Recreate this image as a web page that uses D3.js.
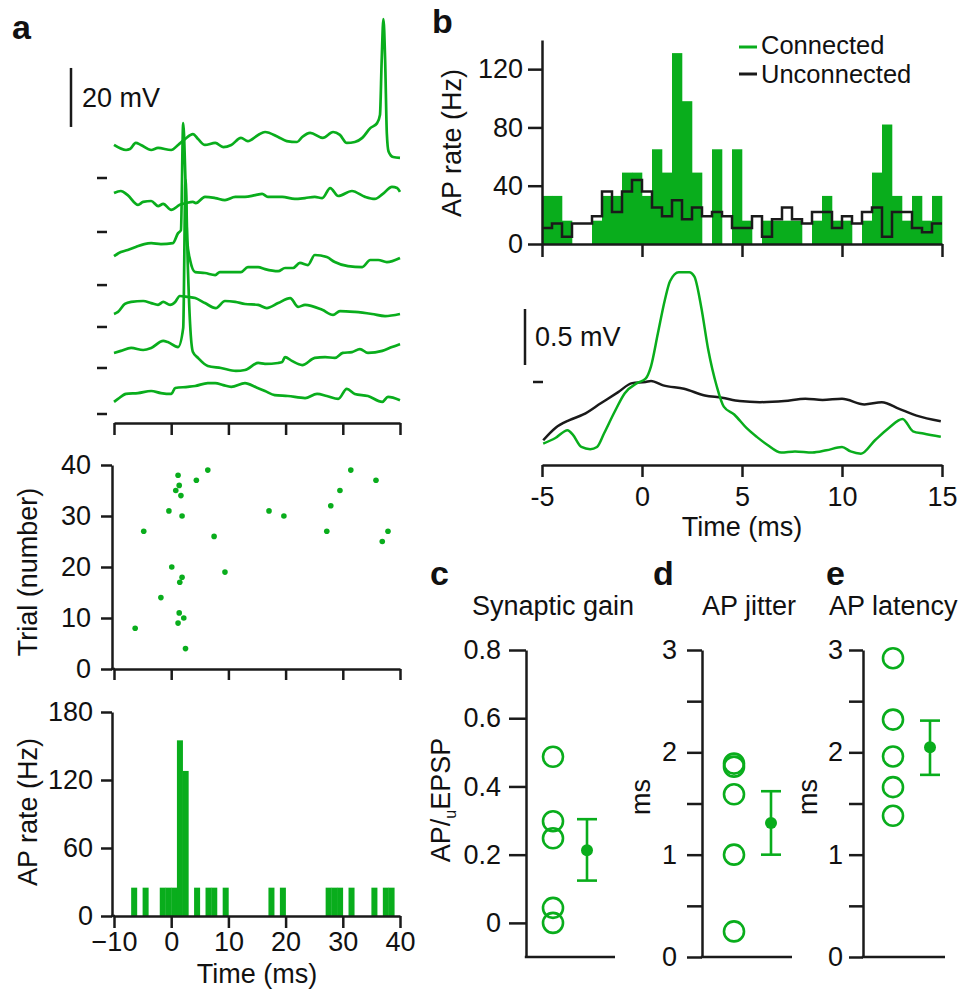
<!DOCTYPE html>
<html lang="en">
<head>
  <meta charset="UTF-8">
  <script src="https://d3js.org/d3.v7.min.js"></script>
  <style>
    body { margin: 0; background: #fff; }
    svg { display: block; font-family: "Liberation Sans", Arial, Helvetica, sans-serif; }
    .axis path, .axis line { stroke: #1a1a1a; stroke-width: 2.5; }
    .axis text { font-size: 27px; fill: #111; font-family: "Liberation Sans", Arial, sans-serif; }
    .lbl { font-size: 27px; fill: #111; }
    .leg { font-size: 25.5px; fill: #111; }
    .letter { font-size: 34px; font-weight: bold; fill: #111; }
  </style>
</head>
<body>
  <script>
    const width = 964;
    const height = 995;
    const GREEN = "#09ad1c";
    const INK = "#1a1a1a";

    // ---- panel a: example sweeps, [time ms, mV above the sweep's rest marker]
    const sweep1 = [[-10,11.2],[-7.9,9.5],[-7.2,9.8],[-6.2,11.9],[-5.3,11.2],[-3.5,9.5],[-2.3,10.2],[0,9.5],[1.2,11.2],[2.4,13.2],[3.8,14.9],[4.7,13.2],[5.9,11.2],[7.7,11.9],[9.1,10.5],[10.5,11.2],[12.2,13.6],[13.4,12.5],[15.2,14.6],[16.4,15.6],[18.7,13.9],[20.2,12.5],[22.0,12.2],[22.9,13.9],[24.3,15.3],[26.5,13.6],[28.3,15.6],[29.5,14.6],[30.7,11.9],[32.1,12.2],[33.4,13.6],[34.8,16.9],[36.0,18.6],[36.5,21.4],[36.8,40],[37.1,53.9],[37.4,40],[37.7,15],[38.0,9],[38.8,7.1],[40,6.8]];
    const sweep2 = [[-10,13.2],[-8.8,13.9],[-7.6,12.5],[-5.8,9.2],[-4.9,10.2],[-3.5,10.5],[-2.3,8.8],[-1.4,9.5],[0,7.5],[1.5,9.2],[2.6,9.8],[3.8,10.2],[4.3,9.8],[5.9,11.9],[7.7,11.5],[9.4,10.8],[11.2,11.9],[12.9,11.9],[14.7,12.5],[15.9,12.9],[16.9,11.9],[19.4,11.9],[21.6,11.2],[23.4,11.5],[25.1,11.9],[26.4,11.5],[27.8,14.9],[29.2,12.2],[31.6,13.9],[33.9,11.9],[35.6,11.2],[37.0,12.9],[38.6,15.3],[39.5,14.9],[40,13.6]];
    const sweep3 = [[-10,9.8],[-8.8,11.2],[-7.6,11.9],[-6.2,12.9],[-4.7,13.9],[-3.5,14.2],[-1.8,13.9],[0.3,14.2],[1.2,17.6],[1.7,18.6],[2.1,54.9],[2.5,35],[2.8,15],[3.3,8.5],[4.2,4.4],[5.9,4.1],[7.7,3.4],[8.5,4.4],[10.5,4.4],[12.2,4.4],[13.4,6.1],[15.2,6.1],[16.4,5.4],[18.7,4.7],[19.9,5.8],[21.3,5.8],[22.5,7.5],[23.9,6.8],[25.1,10.2],[27.2,9.5],[28.6,7.8],[30.9,6.4],[33.4,6.1],[34.8,8.5],[36.2,8.5],[37.7,7.8],[40,9.2]];
    const sweep4 = [[-10,4.4],[-9.3,5.1],[-8.1,7.8],[-7.0,8.5],[-4.9,8.8],[-3.5,8.1],[-2.3,7.5],[-1.4,8.5],[-0.2,7.5],[0.7,8.5],[1.5,10.5],[2.9,10.2],[4.2,9.8],[5.9,8.1],[7.8,6.4],[9.4,8.8],[11.2,8.5],[12.9,7.8],[15.2,7.5],[16.7,6.4],[18.7,8.1],[20.8,9.8],[22.2,6.8],[23.4,7.5],[26.4,5.8],[28.3,4.1],[29.5,5.4],[32.1,5.1],[35.1,4.4],[37.4,3.7],[40,4.4]];
    const sweep5 = [[-10,5.1],[-8.8,5.8],[-7.0,6.8],[-4.9,6.1],[-3.5,6.8],[-1.4,9.2],[-0.6,8.8],[1.2,7.1],[2.1,13.6],[2.5,63.7],[2.9,35],[3.3,15],[3.8,5.4],[4.7,3.4],[6.4,0.7],[8.7,0],[11.3,-1.0],[12.9,-0.7],[15.2,1.7],[16.4,1.4],[18.7,1.7],[19.4,2.0],[19.9,3.7],[21.1,2.4],[22.9,1.0],[25.1,3.4],[26.9,3.7],[28.6,3.4],[30.0,5.1],[31.6,5.4],[33.0,6.4],[34.4,5.1],[36.9,5.8],[38.6,7.1],[40,8.1]];
    const sweep6 = [[-10,4.1],[-9.3,5.1],[-7.9,6.8],[-5.8,7.1],[-3.5,7.8],[-1.8,7.1],[0,6.8],[0.7,8.8],[2.9,9.2],[4.2,9.5],[6.4,10.5],[7.7,10.5],[9.1,9.8],[10.5,9.2],[12.9,10.5],[14.9,9.0],[16.4,7.8],[18.1,6.4],[20.4,6.1],[23.4,5.4],[25.5,6.8],[27.2,6.1],[29.2,5.1],[30.7,8.5],[32.1,6.8],[34.4,6.1],[36.9,4.1],[37.9,5.8],[40,4.7]];
    const sweeps = [sweep1, sweep2, sweep3, sweep4, sweep5, sweep6];
    const sweepOffsets = [80, 61.7, 43.7, 29.5, 15.6, 0]; // mV offset of each sweep in the stack

    // raster
    const rasterTime  = [-6.3,-4.8,-1.8,-0.4,0.1,1.2,1.4,0.8,1.7,1.9,1.5,1.9,1.4,1.2,2.2,2.5,4.4,6.4,7.5,9.4,17.1,19.7,27.2,27.9,29.5,31.4,35.8,36.9,37.9];
    const rasterTrial = [8,27,14,31,20,38,36,35,34,30,17,18,11,9,10,4,37,39,26,19,31,30,27,32,35,39,37,25,27];

    // PSTH of the example pair, 1 ms bins
    const histBinStart = [-7,-5,-2,-1,0,1,2,4,6,7,9,17,19,27,28,29,31,35,37,38];
    const histRate     = [25,25,25,25,25,155,128,25,25,25,25,25,25,25,25,25,25,25,25,25];

    // ---- panel b: population PSTH, 0.5 ms bins from -5 ms
    const bBinStart = -5, bBinWidth = 0.5;
    const bConnected   = [33,33,16,0,0,16,33,33,49,49,33,65,49,131,98,49,0,65,0,65,16,0,16,16,16,16,0,16,33,16,16,0,16,49,82,33,16,33,16,33];
    const bUnconnected = [11,14,5,14,14,19,36,22,36,44,36,25,19,30,17,25,19,22,19,11,11,19,5,17,25,17,14,22,22,11,19,14,22,25,5,22,22,11,8,14];

    // average membrane potential, [time ms, mV]
    const vmConnected = [[-4.94,-0.55],[-4.33,-0.50],[-3.72,-0.43],[-3.46,-0.47],[-3.03,-0.58],[-2.59,-0.60],[-2.25,-0.58],[-1.9,-0.46],[-1.38,-0.27],[-0.86,-0.10],[-0.25,-0.01],[0.18,0.03],[0.45,0.14],[0.79,0.43],[1.14,0.73],[1.4,0.90],[1.84,0.98],[2.36,0.98],[2.62,0.94],[2.96,0.67],[3.31,0.29],[3.74,-0.04],[4.09,-0.22],[4.61,-0.29],[5.22,-0.41],[5.74,-0.49],[6.26,-0.56],[6.96,-0.63],[7.65,-0.62],[8.52,-0.63],[9.22,-0.61],[10.0,-0.58],[10.43,-0.62],[10.95,-0.64],[11.65,-0.52],[12.34,-0.41],[13.03,-0.33],[13.55,-0.44],[14.07,-0.46],[14.94,-0.49]];
    const vmUnconnected = [[-4.94,-0.52],[-4.33,-0.41],[-3.63,-0.34],[-2.93,-0.29],[-2.06,-0.19],[-1.19,-0.09],[-0.49,-0.01],[0.18,0.0],[0.45,0.01],[1.06,-0.03],[2.10,-0.06],[3.14,-0.12],[4.0,-0.14],[4.88,-0.17],[5.9,-0.18],[7.12,-0.17],[8.17,-0.15],[9.03,-0.16],[10.0,-0.15],[11.12,-0.20],[11.99,-0.18],[12.86,-0.24],[13.73,-0.30],[14.94,-0.35]];

    // ---- panels c-e: per-cell values, mean and error bar [low, high]
    const gainCells = [0.487, 0.298, 0.248, 0.044, 0.0];
    const gainMean = 0.213, gainErr = [0.124, 0.304];
    const jitterCells = [1.89, 1.86, 1.59, 1.0, 0.25];
    const jitterMean = 1.31, jitterErr = [1.0, 1.62];
    const latencyCells = [2.92, 2.32, 1.96, 1.66, 1.38];
    const latencyMean = 2.05, latencyErr = [1.78, 2.31];

    const svg = d3.select("body").append("svg")
      .attr("width", width)
      .attr("height", height);

    function text(x, y, str, cls, anchor) {
      return svg.append("text").attr("x", x).attr("y", y)
        .attr("class", cls || "lbl")
        .attr("text-anchor", anchor || "start")
        .text(str);
    }
    function vtext(x, y, str) {
      return svg.append("text").attr("class", "lbl")
        .attr("transform", `translate(${x},${y}) rotate(-90)`)
        .attr("text-anchor", "middle").text(str);
    }
    function hline(x1, x2, y, color, w) {
      svg.append("line").attr("x1", x1).attr("x2", x2).attr("y1", y).attr("y2", y)
        .attr("stroke", color || INK).attr("stroke-width", w || 2.5);
    }
    function vline(x, y1, y2, color, w) {
      svg.append("line").attr("x1", x).attr("x2", x).attr("y1", y1).attr("y2", y2)
        .attr("stroke", color || INK).attr("stroke-width", w || 2.5);
    }

    // ================= panel a =================
    text(12, 39, "a", "letter");
    const xA = d3.scaleLinear().domain([-10, 40]).range([114, 400]);
    const yStack = d3.scaleLinear().domain([0, 20]).range([414, 355]);

    sweeps.forEach((s, i) => {
      const off = sweepOffsets[i];
      svg.append("path").datum(s)
        .attr("d", d3.line().curve(d3.curveMonotoneX).x(d => xA(d[0])).y(d => yStack(off + d[1])))
        .attr("fill", "none").attr("stroke", GREEN)
        .attr("stroke-width", 2.7).attr("stroke-linejoin", "round");
      hline(97, 107, yStack(off), INK, 2.5);
    });
    // 20 mV scale bar
    vline(71, yStack(117.3), yStack(97.3), INK, 2.5);
    text(82, 107, "20 mV");

    svg.append("g").attr("class", "axis").attr("transform", "translate(0,423)")
      .call(d3.axisBottom(xA).tickValues([-10, 0, 10, 20, 30, 40]).tickSize(12).tickSizeOuter(0).tickFormat(""));

    // raster
    const yR = d3.scaleLinear().domain([0, 40]).range([669, 465]);
    svg.append("g").selectAll("circle")
      .data(rasterTime.map((t, i) => [t, rasterTrial[i]]))
      .join("circle")
      .attr("cx", d => xA(d[0])).attr("cy", d => yR(d[1]))
      .attr("r", 2.8).attr("fill", GREEN);
    svg.append("g").attr("class", "axis").attr("transform", "translate(112,0)")
      .call(d3.axisLeft(yR).tickValues([0, 10, 20, 30, 40]).tickSize(11).tickPadding(10).tickSizeOuter(0));
    svg.append("g").attr("class", "axis").attr("transform", "translate(0,669)")
      .call(d3.axisBottom(xA).tickValues([-10, 0, 10, 20, 30, 40]).tickSize(11).tickSizeOuter(0).tickFormat(""));
    hline(111, 115, 669);
    vtext(37, 572, "Trial (number)");

    // PSTH
    const yH = d3.scaleLinear().domain([0, 180]).range([916, 712]);
    svg.append("g").selectAll("rect")
      .data(histBinStart.map((t, i) => [t, histRate[i]]))
      .join("rect")
      .attr("x", d => xA(d[0]))
      .attr("width", d => xA(d[0] + 1) - xA(d[0]) + 0.3)
      .attr("y", d => yH(d[1]))
      .attr("height", d => yH(0) - yH(d[1]))
      .attr("fill", GREEN);
    svg.append("g").attr("class", "axis").attr("transform", "translate(112,0)")
      .call(d3.axisLeft(yH).tickValues([0, 60, 120, 180]).tickSize(11).tickPadding(8).tickSizeOuter(0));
    svg.append("g").attr("class", "axis").attr("transform", "translate(0,916)")
      .call(d3.axisBottom(xA).tickValues([-10, 0, 10, 20, 30, 40]).tickSize(12).tickPadding(4).tickSizeOuter(0));
    hline(111, 115, 916);
    vtext(37, 812, "AP rate (Hz)");
    text(257, 983, "Time (ms)", "lbl", "middle");

    // ================= panel b =================
    text(432, 33, "b", "letter");
    const xB = d3.scaleLinear().domain([-5, 15]).range([542, 942]);
    const yB = d3.scaleLinear().domain([0, 140]).range([244, 40]);

    svg.append("g").selectAll("rect")
      .data(bConnected.map((r, i) => [bBinStart + i * bBinWidth, r]).filter(d => d[1] > 0))
      .join("rect")
      .attr("x", d => xB(d[0]))
      .attr("width", d => xB(d[0] + bBinWidth) - xB(d[0]) + 0.3)
      .attr("y", d => yB(d[1]))
      .attr("height", d => yB(0) - yB(d[1]))
      .attr("fill", GREEN);

    const stepPts = bUnconnected.map((r, i) => [bBinStart + i * bBinWidth, r]);
    stepPts.push([bBinStart + bUnconnected.length * bBinWidth, bUnconnected[bUnconnected.length - 1]]);
    svg.append("path").datum(stepPts)
      .attr("d", d3.line().curve(d3.curveStepAfter).x(d => xB(d[0])).y(d => yB(d[1])))
      .attr("fill", "none").attr("stroke", INK).attr("stroke-width", 2.5);

    svg.append("g").attr("class", "axis").attr("transform", "translate(542,0)")
      .call(d3.axisLeft(yB).tickValues([0, 40, 80, 120]).tickSize(14).tickPadding(5).tickSizeOuter(0));
    svg.append("g").attr("class", "axis").attr("transform", "translate(0,244)")
      .call(d3.axisBottom(xB).tickValues([-5, 0, 5, 10, 15]).tickSize(13).tickSizeOuter(0).tickFormat(""));
    vtext(461, 143, "AP rate (Hz)");

    // legend
    hline(739, 757, 47, GREEN, 3);
    text(761, 54, "Connected", "leg");
    hline(739, 757, 74, INK, 3);
    text(761, 83, "Unconnected", "leg");

    // average Vm
    const yT = d3.scaleLinear().domain([0, 0.5]).range([382, 326]);
    const vmLine = d3.line().curve(d3.curveMonotoneX).x(d => xB(d[0])).y(d => yT(d[1]));
    svg.append("path").datum(vmUnconnected).attr("d", vmLine)
      .attr("fill", "none").attr("stroke", INK).attr("stroke-width", 2.5).attr("stroke-linejoin", "round");
    svg.append("path").datum(vmConnected).attr("d", vmLine)
      .attr("fill", "none").attr("stroke", GREEN).attr("stroke-width", 2.5).attr("stroke-linejoin", "round");
    vline(525, yT(0.652), yT(0.152), INK, 2.5);
    text(535, 346, "0.5 mV");
    hline(533, 543, yT(0), INK, 2.5);

    svg.append("g").attr("class", "axis").attr("transform", "translate(0,465)")
      .call(d3.axisBottom(xB).tickValues([-5, 0, 5, 10, 15]).tickSize(12).tickPadding(10)
        .tickSizeOuter(0).tickFormat(d => String(d)));
    text(742, 536, "Time (ms)", "lbl", "middle");

    // ================= panels c, d, e =================
    function dotPanel(o) {
      const y = d3.scaleLinear().domain(o.domain).range([957, 650]);
      const axisX = o.axisX;
      svg.append("g").attr("class", "axis").attr("transform", `translate(${axisX},0)`)
        .call(d3.axisLeft(y).tickValues(o.ticks).tickSize(o.tickLen).tickPadding(o.pad)
          .tickSizeOuter(0).tickFormat(o.fmt));
      hline(axisX - 1.2, o.xEnd, 957);
      const px = d3.scalePoint().domain(["cells", "mean"]).range([axisX + o.cellDx, axisX + o.meanDx]);
      svg.append("g").selectAll("circle").data(o.cells).join("circle")
        .attr("cx", px("cells")).attr("cy", d => y(d)).attr("r", 10)
        .attr("fill", "none").attr("stroke", GREEN).attr("stroke-width", 2.6);
      const mx = px("mean");
      vline(mx, y(o.err[0]), y(o.err[1]), GREEN, 2.6);
      hline(mx - 10, mx + 10, y(o.err[0]), GREEN, 2.6);
      hline(mx - 10, mx + 10, y(o.err[1]), GREEN, 2.6);
      svg.append("circle").attr("cx", mx).attr("cy", y(o.mean)).attr("r", 6).attr("fill", GREEN);
    }

    text(430, 585, "c", "letter");
    text(553, 615, "Synaptic gain", "lbl", "middle");
    dotPanel({
      domain: [-0.1, 0.8], ticks: [0, 0.2, 0.4, 0.6, 0.8], fmt: d => d === 0 ? "0" : d.toFixed(1),
      axisX: 526, tickLen: 17, pad: 8, xEnd: 615, cellDx: 27, meanDx: 61,
      cells: gainCells, mean: gainMean, err: gainErr
    });
    const cl = svg.append("text").attr("class", "lbl")
      .attr("transform", "translate(450,800) rotate(-90)").attr("text-anchor", "middle");
    cl.append("tspan").text("AP/");
    cl.append("tspan").attr("dy", 6).style("font-size", "16px").text("u");
    cl.append("tspan").attr("dy", -6).text("EPSP");

    const halfTicks = [0, 0.5, 1, 1.5, 2, 2.5, 3];
    const intFmt = d => Number.isInteger(d) ? String(d) : "";

    text(653, 585, "d", "letter");
    text(749, 615, "AP jitter", "lbl", "middle");
    dotPanel({
      domain: [0, 3], ticks: halfTicks, fmt: intFmt,
      axisX: 702, tickLen: 15, pad: 10, xEnd: 792, cellDx: 32, meanDx: 69,
      cells: jitterCells, mean: jitterMean, err: jitterErr
    });
    vtext(650, 797, "ms");

    text(826, 585, "e", "letter");
    text(829, 615, "AP latency");
    dotPanel({
      domain: [0, 3], ticks: halfTicks, fmt: intFmt,
      axisX: 863, tickLen: 14, pad: 6, xEnd: 945, cellDx: 30, meanDx: 67,
      cells: latencyCells, mean: latencyMean, err: latencyErr
    });
    vtext(817, 797, "ms");
  </script>
</body>
</html>
